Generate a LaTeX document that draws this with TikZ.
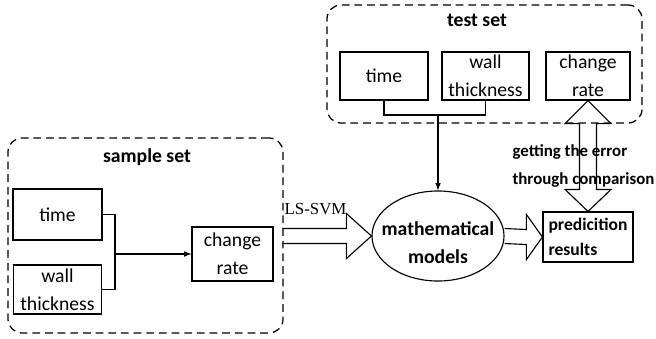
\documentclass[tikz,border=0pt]{standalone}
\usepackage{fontspec}
\setmainfont{Carlito}
\newfontfamily\svmfont{Liberation Serif}
\usetikzlibrary{calc,shapes.geometric}
\tikzset{
    frame/.style={draw,line width=0.9pt,dash pattern=on 5.5pt off 3.5pt,rounded corners=10pt},
    databox/.style={draw,line width=0.8pt,align=center,inner sep=1pt,font=\fontsize{14}{20}\selectfont},
    title/.style={font=\fontsize{14}{16}\selectfont\bfseries},
    hollow/.style={draw,line width=0.8pt,line join=miter},
}
\begin{document}
\begin{tikzpicture}[x=0.025cm,y=-0.025cm,line width=0.8pt]
        \useasboundingbox (0,0) rectangle (656,338);
        %% Sample set
        \node[frame,minimum width=6.875cm,minimum height=4.875cm] (sampleframe) at (145.5,235.5) {};
        \node[title] (sampletitle) at (147,157) {sample set};
        \node[databox,minimum width=2.225cm,minimum height=1.275cm] (sTime) at (57.5,214.5) {time};
        \node[databox,minimum width=2.2cm,minimum height=1.225cm] (sWall) at (57.5,289.5) {wall\\thickness};
        \node[databox,minimum width=2.025cm,minimum height=1.35cm] (sRate) at (232.5,254) {change\\rate};
        \coordinate (sJoin) at (115,254);
        \draw (sTime.east) -| (sJoin) |- (sWall.east);
        \draw[-latex] (sJoin) -- (sRate.west);
        %% Test set
        \node[frame,minimum width=7.875cm,minimum height=2.95cm] (testframe) at (484.5,64) {};
        \node[title] (testtitle) at (477,20) {test set};
        \node[databox,minimum width=2.2cm,minimum height=1.2cm] (tTime) at (384,76) {time};
        \node[databox,minimum width=2.175cm,minimum height=1.2cm] (tWall) at (485.5,76) {wall\\thickness};
        \node[databox,minimum width=2.1cm,minimum height=1.2cm] (tRate) at (588,76) {change\\rate};
        \coordinate (tJoin) at (438,115);
        \draw (tTime.south) |- (tJoin) -| (tWall.south);
        %% Model and results
        \node[draw,ellipse,minimum width=3.3cm,minimum height=2.25cm] (model) at (438,236) {};
        \node[align=center,font=\fontsize{14}{20}\selectfont\bfseries] (modeltext) at ($(model.center)+(0,7)$) {mathematical\\models};
        \node[databox,minimum width=2.25cm,minimum height=1.25cm,font=\fontsize{12.5}{17.5}\selectfont\bfseries,align=left] (pred) at (588,237) {predicition\\results};
        \draw[-latex] (tJoin) -- (model.north);
        %% Hollow arrows
        \node[anchor=west,inner sep=0pt,font=\svmfont\fontsize{12}{14}\selectfont] (svm) at (284,209) {LS-SVM};
        \draw[hollow] ($(model.west)+(-89,-7.5)$) -- ($(model.west)+(-25,-7.5)$) -- ($(model.west)+(-25,-22.5)$) -- (model.west)
            -- ($(model.west)+(-25,22.5)$) -- ($(model.west)+(-25,7.5)$) -- ($(model.west)+(-89,7.5)$);
        \draw[hollow] ($(model.east)+(0,-7.5)$) -- ($(pred.west)+(-16,-7.5)$) -- ($(pred.west)+(-16,-22.5)$) -- (pred.west)
            -- ($(pred.west)+(-16,22.5)$) -- ($(pred.west)+(-16,7.5)$) -- ($(model.east)+(0,7.5)$);
        \node[anchor=west,align=left,inner sep=0pt,font=\fontsize{12}{20}\selectfont\bfseries] (errtext) at (512,166) {getting the error\\through comparison};
        \draw[hollow] (tRate.south) -- ($(tRate.south)+(23,23)$) -- ($(tRate.south)+(8.5,23)$) -- ($(pred.north)+(8.5,-22)$)
            -- ($(pred.north)+(23,-22)$) -- (pred.north) -- ($(pred.north)+(-23,-22)$) -- ($(pred.north)+(-8.5,-22)$)
            -- ($(tRate.south)+(-8.5,23)$) -- ($(tRate.south)+(-23,23)$) -- cycle;
    \end{tikzpicture}
\end{document}
